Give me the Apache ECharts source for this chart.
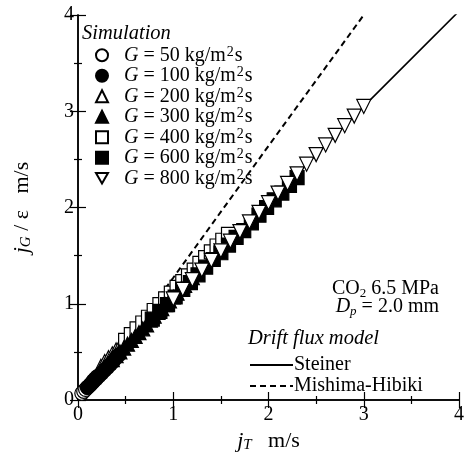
<!DOCTYPE html>
<html>
<head>
<meta charset="utf-8">
<script src="https://cdn.jsdelivr.net/npm/echarts@6/dist/echarts.min.js"></script>
<style>
  html, body { margin: 0; padding: 0; background: #fff; }
  #chart { width: 467px; height: 459px; }
</style>
</head>
<body>
<div id="chart"></div>
<script>
// simulation data: jT (m/s) vs jG/eps (m/s), one pair of arrays per mass flux
var g50X = [0.04, 0.06, 0.08, 0.10, 0.12, 0.14, 0.16, 0.18, 0.20];
var g50Y = [0.07, 0.09, 0.11, 0.13, 0.15, 0.17, 0.20, 0.22, 0.24];
var g100X = [0.10, 0.13, 0.16, 0.19, 0.22, 0.25, 0.28, 0.31, 0.34, 0.37, 0.40, 0.43];
var g100Y = [0.13, 0.16, 0.19, 0.22, 0.25, 0.28, 0.31, 0.34, 0.37, 0.40, 0.44, 0.47];
var g200X = [0.24, 0.28, 0.32, 0.36, 0.40, 0.44, 0.48, 0.52, 0.56, 0.60, 0.64, 0.68, 0.72, 0.76, 0.80];
var g200Y = [0.35, 0.40, 0.44, 0.48, 0.52, 0.56, 0.60, 0.64, 0.68, 0.72, 0.76, 0.80, 0.84, 0.88, 0.92];
var g300X = [0.36, 0.40, 0.44, 0.48, 0.52, 0.56, 0.60, 0.64, 0.68, 0.72, 0.76, 0.80, 0.84, 0.88, 0.92, 0.96, 1.00, 1.04, 1.08, 1.12, 1.16, 1.20];
var g300Y = [0.42, 0.46, 0.50, 0.54, 0.58, 0.62, 0.66, 0.70, 0.74, 0.78, 0.83, 0.87, 0.91, 0.95, 0.99, 1.03, 1.07, 1.11, 1.15, 1.19, 1.23, 1.27];
var g400X = [0.50, 0.56, 0.62, 0.68, 0.74, 0.80, 0.86, 0.92, 0.98, 1.04, 1.10, 1.16, 1.22, 1.28, 1.34, 1.40, 1.46, 1.52, 1.58];
var g400Y = [0.62, 0.68, 0.74, 0.80, 0.86, 0.93, 0.99, 1.05, 1.11, 1.17, 1.23, 1.29, 1.35, 1.42, 1.48, 1.54, 1.60, 1.66, 1.72];
var g600X = [0.78, 0.86, 0.94, 1.02, 1.10, 1.18, 1.26, 1.34, 1.42, 1.50, 1.58, 1.66, 1.74, 1.82, 1.90, 1.98, 2.06, 2.14, 2.22, 2.30];
var g600Y = [0.84, 0.92, 0.99, 1.07, 1.15, 1.22, 1.30, 1.38, 1.46, 1.53, 1.61, 1.69, 1.76, 1.84, 1.92, 2.00, 2.08, 2.15, 2.23, 2.31];
var g800X = [1.00, 1.10, 1.20, 1.30, 1.40, 1.50, 1.60, 1.70, 1.80, 1.90, 2.00, 2.10, 2.20, 2.30, 2.40, 2.50, 2.60, 2.70, 2.80, 2.90, 3.00];
var g800Y = [1.05, 1.15, 1.25, 1.35, 1.45, 1.55, 1.65, 1.75, 1.85, 1.95, 2.05, 2.15, 2.25, 2.35, 2.45, 2.55, 2.65, 2.75, 2.85, 2.95, 3.05];

// drift flux model curves
var steinerX = [0, 1, 2, 3, 4];
var steinerY = [0.05, 1.04, 2.04, 3.05, 4.04];
var mishimaX = [0, 0.5, 1, 2, 3, 3.1];
var mishimaY = [0.02, 0.60, 1.27, 2.64, 4.00, 4.14];

// axis ticks
var axisMin = 0;
var axisMax = 4;
var axisStep = 1;

var serif = "Liberation Serif";

function pairs(xs, ys) {
  return xs.map(function (x, i) { return [x, ys[i]]; });
}

var downTri = "path://M0,0L10,0L5,8.66Z";

// open markers sit under the filled ones, G = 800 on top of all
var simSeries = [
  { name: "G50", x: g50X, y: g50Y, symbol: "circle", fill: "#fff", z: 2 },
  { name: "G100", x: g100X, y: g100Y, symbol: "circle", fill: "#000", z: 3 },
  { name: "G200", x: g200X, y: g200Y, symbol: "triangle", fill: "#fff", z: 2 },
  { name: "G300", x: g300X, y: g300Y, symbol: "triangle", fill: "#000", z: 3 },
  { name: "G400", x: g400X, y: g400Y, symbol: "rect", fill: "#fff", z: 2 },
  { name: "G600", x: g600X, y: g600Y, symbol: "rect", fill: "#000", z: 3 },
  { name: "G800", x: g800X, y: g800Y, symbol: downTri, fill: "#fff", z: 4 }
];
var gLabels = { G50: "50", G100: "100", G200: "200", G300: "300", G400: "400", G600: "600", G800: "800" };

var series = [
  {
    name: "Steiner",
    type: "line",
    data: pairs(steinerX, steinerY),
    symbol: "none",
    z: 1,
    lineStyle: { color: "#000", width: 1.6 },
    itemStyle: { color: "#000" }
  },
  {
    name: "Mishima-Hibiki",
    type: "line",
    data: pairs(mishimaX, mishimaY),
    symbol: "none",
    z: 1,
    lineStyle: { color: "#000", width: 2, type: [6, 4] },
    itemStyle: { color: "#000" }
  }
];
simSeries.forEach(function (s) {
  series.push({
    name: s.name,
    type: "scatter",
    data: pairs(s.x, s.y),
    symbol: s.symbol,
    symbolSize: 14,
    z: s.z,
    itemStyle: { color: s.fill, borderColor: "#000", borderWidth: 1.2, opacity: 1 }
  });
});

var tickCommon = {
  axisLine: { lineStyle: { color: "#000", width: 1.5 } },
  axisTick: { inside: true, length: 8, lineStyle: { color: "#000", width: 1.2 } },
  minorTick: { show: true, splitNumber: 2, length: 4, lineStyle: { color: "#000", width: 1.2 } },
  splitLine: { show: false }
};

var nameRich = {
  i: { fontFamily: serif, fontSize: 22, fontStyle: "italic", color: "#000" },
  sub: { fontFamily: serif, fontSize: 15, fontStyle: "italic", color: "#000", padding: [9, 0, 0, 0] }
};

var chart = echarts.init(document.getElementById("chart"));
chart.setOption({
  animation: false,
  backgroundColor: "#fff",
  grid: { left: 78, top: 15, width: 385, height: 385 },
  legend: [
    {
      data: simSeries.map(function (s) { return s.name; }),
      orient: "vertical",
      left: 95,
      top: 45,
      padding: 0,
      itemGap: 0,
      itemWidth: 12,
      itemHeight: 12,
      selectedMode: false,
      formatter: function (name) {
        return "{i|G} = " + gLabels[name] + " kg/m{sup|2}s";
      },
      textStyle: {
        fontFamily: serif, fontSize: 20, color: "#000", lineHeight: 20.5,
        padding: [0, 0, 0, 11],
        rich: {
          i: { fontFamily: serif, fontSize: 20, fontStyle: "italic", color: "#000", lineHeight: 20.5 },
          sup: { fontFamily: serif, fontSize: 14, color: "#000", lineHeight: 12, verticalAlign: "top", padding: [0, 1, 0, 1] }
        }
      }
    },
    {
      data: ["Steiner", "Mishima-Hibiki"],
      orient: "vertical",
      left: 249,
      top: 355,
      padding: 0,
      itemGap: 1,
      itemWidth: 43,
      itemHeight: 14,
      selectedMode: false,
      itemStyle: { opacity: 0 },
      textStyle: { fontFamily: serif, fontSize: 20, color: "#000", padding: [0, 0, 0, -4] }
    }
  ],
  xAxis: [
    Object.assign({
      type: "value", min: axisMin, max: axisMax, interval: axisStep,
      name: "{i|j}{sub|T}   m/s",
      nameLocation: "middle",
      nameGap: 27,
      nameTextStyle: { fontFamily: serif, fontSize: 22, color: "#000", rich: nameRich },
      axisLabel: { fontFamily: serif, fontSize: 20, color: "#000", margin: 5 }
    }, tickCommon),
    Object.assign({
      type: "value", min: axisMin, max: axisMax, interval: axisStep,
      position: "top",
      axisLabel: { show: false }
    }, tickCommon)
  ],
  yAxis: [
    Object.assign({
      type: "value", min: axisMin, max: axisMax, interval: axisStep,
      name: "{i|j}{sub|G} / ε   m/s",
      nameLocation: "middle",
      nameGap: 44,
      nameTextStyle: { fontFamily: serif, fontSize: 22, color: "#000", rich: nameRich },
      axisLabel: { fontFamily: serif, fontSize: 20, color: "#000", margin: 4 }
    }, tickCommon),
    Object.assign({
      type: "value", min: axisMin, max: axisMax, interval: axisStep,
      position: "right",
      axisLabel: { show: false }
    }, tickCommon)
  ],
  graphic: [
    {
      type: "text", left: 82, top: 24,
      style: { text: "Simulation", font: "italic 20.5px " + serif, fill: "#000" }
    },
    {
      type: "text", left: 248, top: 329,
      style: { text: "Drift flux model", font: "italic 20.5px " + serif, fill: "#000" }
    },
    {
      type: "text", right: 28, top: 279,
      style: {
        text: "CO{sub|2} 6.5 MPa",
        font: "20px " + serif, fill: "#000",
        rich: { sub: { fontFamily: serif, fontSize: 13, fill: "#000", padding: [9, 0, 0, 0] } }
      }
    },
    {
      type: "text", right: 28, top: 297,
      style: {
        text: "{i|D}{sub|p} = 2.0 mm",
        font: "20px " + serif, fill: "#000",
        rich: {
          i: { fontFamily: serif, fontSize: 20, fontStyle: "italic", fill: "#000" },
          sub: { fontFamily: serif, fontSize: 13, fontStyle: "italic", fill: "#000", padding: [9, 0, 0, 0] }
        }
      }
    }
  ],
  series: series
});
</script>
</body>
</html>
